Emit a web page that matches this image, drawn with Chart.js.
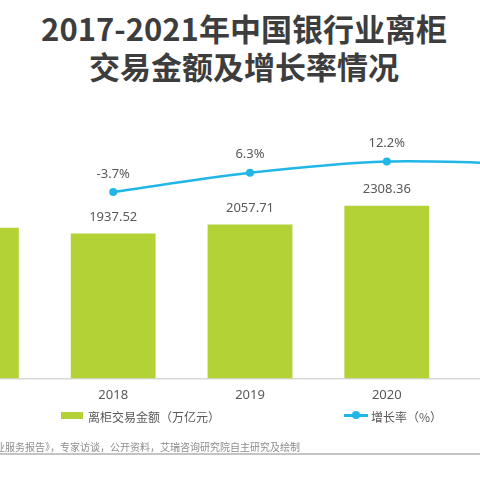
<!DOCTYPE html>
<html>
<head>
<meta charset="utf-8">
<script src="https://cdn.jsdelivr.net/npm/chart.js@4.4.0/dist/chart.umd.min.js"></script>
<style>
  html, body { margin: 0; padding: 0; }
  body {
    width: 480px; height: 480px; overflow: hidden; position: relative;
    background: #ffffff; font-family: "Noto Sans CJK SC", "Noto Sans", sans-serif;
  }
  #title {
    position: absolute; left: 4px; top: 9px; width: 480px;
    text-align: center; font-size: 31px; line-height: 38px; font-weight: bold; color: #3d3d3d;
  }
  #chart { position: absolute; left: -96px; top: 100px; }
  .legend-text { position: absolute; font-size: 12px; line-height: 14px; color: #595959; white-space: nowrap; }
  #barKey { position: absolute; left: 61px; top: 412px; width: 22px; height: 7px; background: #b2d235; }
  #lineKey { position: absolute; left: 344px; top: 414px; width: 24px; height: 2.5px; background: #21b6e8; }
  #lineDot { position: absolute; left: 352px; top: 411px; width: 8px; height: 8px; border-radius: 50%; background: #21b6e8; }
  #source {
    position: absolute; right: 180px; top: 440px; font-size: 10px; line-height: 14px;
    color: #8c8c8c; white-space: nowrap;
  }
  #rule { position: absolute; left: 0; top: 453px; width: 480px; height: 2px; background: #c4c4c4; }
</style>
</head>
<body>
<div id="title">2017-2021年中国银行业离柜<br>交易金额及增长率情况</div>
<canvas id="chart" width="692" height="312"></canvas>
<div id="barKey"></div>
<div class="legend-text" style="left:88px; top:410px;">离柜交易金额（万亿元）</div>
<div id="lineKey"></div>
<div id="lineDot"></div>
<div class="legend-text" style="left:371px; top:410px;">增长率（%）</div>
<div id="source">来源：《中国银行业服务报告》，专家访谈，公开资料，艾瑞咨询研究院自主研究及绘制</div>
<div id="rule"></div>

<script>
// Chart data
const years = ["2017", "2018", "2019", "2020", "2021"];
const amounts = [2011.96, 1937.52, 2057.71, 2308.36, 2562.0];
const growthRates = [null, -3.7, 6.3, 12.2, 11.0];

const labelFont = '13px "Noto Sans", "Noto Sans CJK SC", sans-serif';

// Draws the value labels above bars and points
const valueLabels = {
  id: "valueLabels",
  afterDatasetsDraw(chart) {
    const ctx = chart.ctx;
    ctx.save();
    ctx.font = labelFont;
    ctx.fillStyle = "#595959";
    ctx.textAlign = "center";
    ctx.textBaseline = "middle";
    chart.data.datasets.forEach(function(ds, i) {
      const meta = chart.getDatasetMeta(i);
      meta.data.forEach(function(el, j) {
        const v = ds.data[j];
        if (v === null) return;
        if (ds.type === "bar") {
          ctx.fillText(v.toFixed(2), el.x, el.y - 16);
        } else {
          ctx.fillText(v.toFixed(1) + "%", el.x, el.y - 18);
        }
      });
    });
    ctx.restore();
  }
};

const ctx = document.getElementById("chart").getContext("2d");
new Chart(ctx, {
  data: {
    labels: years,
    datasets: [
      {
        type: "line",
        label: "增长率（%）",
        data: growthRates,
        yAxisID: "y1",
        borderColor: "#21b6e8",
        backgroundColor: "#21b6e8",
        borderWidth: 2.5,
        pointRadius: 4,
        pointBackgroundColor: "#21b6e8",
        pointBorderWidth: 0,
        tension: 0.3,
        order: 0
      },
      {
        type: "bar",
        label: "离柜交易金额（万亿元）",
        data: amounts,
        yAxisID: "y",
        backgroundColor: "#b2d235",
        barPercentage: 1,
        categoryPercentage: 0.62,
        order: 1
      }
    ]
  },
  options: {
    responsive: false,
    animation: false,
    layout: { padding: 0 },
    plugins: {
      legend: { display: false },
      title: { display: false },
      tooltip: { enabled: false }
    },
    scales: {
      x: {
        offset: true,
        grid: { display: false, drawTicks: false },
        border: { display: true, color: "#d9d9d9", width: 1.5 },
        ticks: {
          color: "#595959",
          padding: 9,
          font: { size: 13, family: '"Noto Sans", sans-serif' }
        }
      },
      y: { display: false, min: 0, max: 3667 },
      y1: { display: false, position: "right", min: -101.3, max: 42.3 }
    }
  },
  plugins: [valueLabels]
});
</script>
</body>
</html>
